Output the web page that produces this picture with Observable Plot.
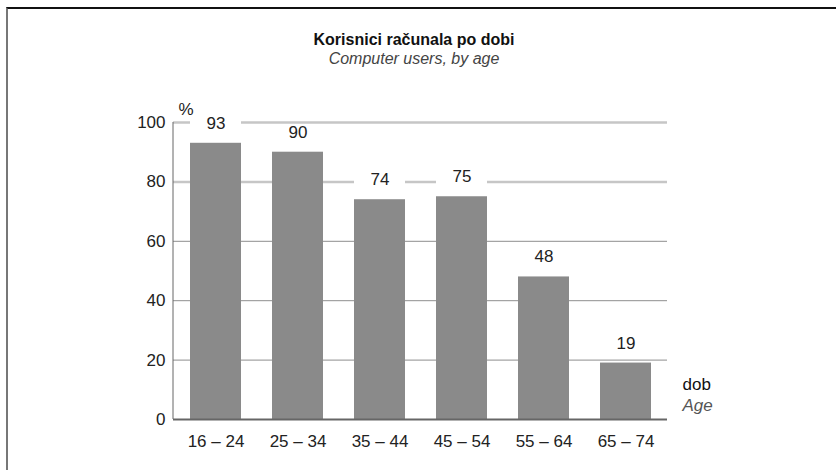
<!DOCTYPE html>
<html>
<head>
<meta charset="utf-8">
<script src="https://cdn.jsdelivr.net/npm/d3@7"></script>
<script src="https://cdn.jsdelivr.net/npm/@observablehq/plot@0.6"></script>
<style>
  html, body { margin: 0; padding: 0; background: #fff; }
  #wrap { position: relative; width: 836px; height: 470px; overflow: hidden; font-family: "Liberation Sans", Arial, sans-serif; }
  #border { position: absolute; left: 6px; top: 7px; width: 900px; height: 600px; border-top: 2px solid #111; border-left: 2px solid #777; }
  #chart { position: absolute; left: 0; top: 0; }
  .title { position: absolute; left: 0; width: 828px; text-align: center; font-size: 16px; line-height: 19px; }
  #t1 { top: 30px; font-weight: bold; color: #111; }
  #t2 { top: 49px; font-style: italic; color: #444; }
</style>
</head>
<body>
<div id="wrap">
  <div id="border"></div>
  <div id="chart"></div>
  <div class="title" id="t1">Korisnici računala po dobi</div>
  <div class="title" id="t2">Computer users, by age</div>
</div>
<script>
const categories = ["16 – 24", "25 – 34", "35 – 44", "45 – 54", "55 – 64", "65 – 74"];
const values = [93, 90, 74, 75, 48, 19];
const yTicks = [0, 20, 40, 60, 80, 100];
const gridTicks = [20, 40, 60, 80, 100];
const yUnit = "%";
const xTitle = "dob";
const xTitleEn = "Age";

const data = categories.map((c, i) => ({cat: c, v: values[i]}));

const leftAxisLine = (index, scales, vals, dims) => {
  const ns = "http://www.w3.org/2000/svg";
  const l = document.createElementNS(ns, "line");
  l.setAttribute("x1", dims.marginLeft);
  l.setAttribute("x2", dims.marginLeft);
  l.setAttribute("y1", scales.y(yTicks[yTicks.length - 1]));
  l.setAttribute("y2", scales.y(0));
  l.setAttribute("stroke", "#666");
  l.setAttribute("stroke-width", 1);
  return l;
};

const plot = Plot.plot({
  width: 836,
  height: 470,
  marginTop: 122,
  marginBottom: 51,
  marginLeft: 173,
  marginRight: 169,
  style: {fontFamily: "'Liberation Sans', Arial, sans-serif", fontSize: "17px", color: "#222", background: "transparent"},
  x: {domain: categories, paddingInner: 0.38, paddingOuter: 0.19, label: null},
  y: {domain: [0, 100], label: null},
  marks: [
    Plot.ruleY(gridTicks, {
      stroke: d => d >= 80 ? "#c6c6c6" : "#8e8e8e",
      strokeWidth: d => d >= 80 ? 2.5 : 1
    }),
    Plot.barY(data, {x: "cat", y1: d => d.v + 3, y2: d => d.v + 9, fill: "white"}),
    Plot.barY(data, {x: "cat", y: "v", fill: "#8a8a8a"}),
    Plot.ruleY([0], {stroke: "#666", strokeWidth: 2}),
    leftAxisLine,
    Plot.axisY({ticks: yTicks, tickSize: 0, tickPadding: 8, label: null, fontSize: 17, fill: "#222"}),
    Plot.axisX({tickSize: 0, tickPadding: 15, label: null, fontSize: 17, fill: "#222"}),
    Plot.text(data, {x: "cat", y: "v", text: d => String(d.v), dy: -20, fontSize: 17, fill: "#222"}),
    Plot.text([yUnit], {frameAnchor: "top-left", text: d => d, dx: 5, dy: -20, fontSize: 17, fill: "#222"}),
    Plot.text([xTitle], {frameAnchor: "bottom-right", text: d => d, textAnchor: "start", dx: 15, dy: -30, fontSize: 17, fill: "#111"}),
    Plot.text([xTitleEn], {frameAnchor: "bottom-right", text: d => d, textAnchor: "start", dx: 15, dy: -9, fontSize: 17, fill: "#555", fontStyle: "italic"})
  ]
});
document.getElementById("chart").appendChild(plot);
</script>
</body>
</html>
